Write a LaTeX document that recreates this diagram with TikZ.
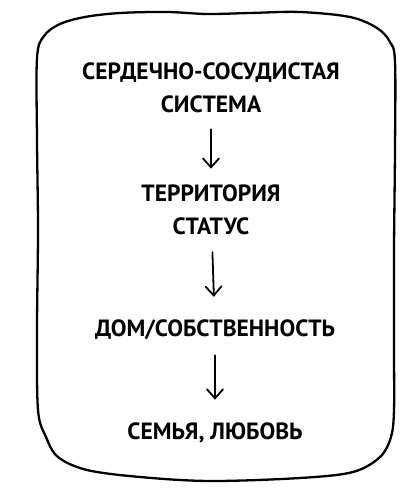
\documentclass[tikz,border=0pt]{standalone}
\usepackage{fontspec}
\setmainfont{PT Sans}
\usetikzlibrary{arrows.meta}
\tikzset{
  stage/.style  = {font=\bfseries\fontsize{23.5}{33}\selectfont, align=center, inner sep=3pt},
  flow/.style   = {line width=1.8pt, line cap=round,
                   -{Straight Barb[length=9pt,width=16pt,line cap=round]}},
  frame/.style  = {line width=2.3pt, line join=round},
}

\begin{document}
\begin{tikzpicture}[x=1pt,y=-1pt]
  \useasboundingbox (0,0) rectangle (418,500);
  % hand drawn frame
  \draw[frame] plot[smooth cycle, tension=0.55] coordinates {
    (37,58) (44,36) (60,24) (85,17) (120,13) (167,12) (207,14)
    (250,13) (300,12) (350,17) (377,28) (390,42) (395,62)
    (395,150) (394,250) (394,350) (394,410) (391,437) (380,457)
    (353,472) (300,478) (210,481) (140,477) (87,470) (58,457)
    (46,437) (38,410) (37,330) (38,230) (37,140)};
  % stages
  \node[stage] (heart)  at (211,88)  {СЕРДЕЧНО-СОСУДИСТАЯ\\СИСТЕМА};
  \node[stage] (land)   at (211,210) {ТЕРРИТОРИЯ\\СТАТУС};
  \node[stage] (home)   at (215,330) {ДОМ/СОБСТВЕННОСТЬ};
  \node[stage] (family) at (215,433) {СЕМЬЯ, ЛЮБОВЬ};
  \draw[flow, shorten <=13pt, shorten >=13pt] (heart) -- (land);
  \draw[flow, shorten <=14pt, shorten >=20pt] (land) -- (home);
  \draw[flow, shorten <=12pt, shorten >=20pt] (home) -- (family);
\end{tikzpicture}
\end{document}
